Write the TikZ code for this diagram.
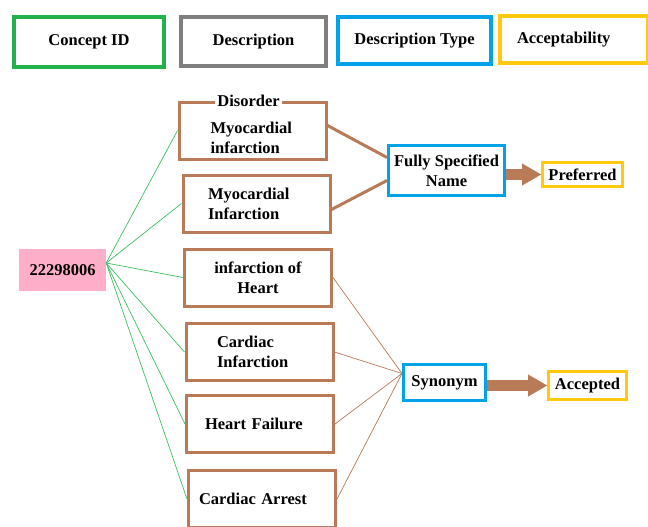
\documentclass[tikz,border=0pt]{standalone}
\usepackage{fontspec}
\setmainfont{Liberation Serif}
\usetikzlibrary{arrows.meta,calc}
\definecolor{idgreen}{HTML}{22B14C}
\definecolor{linkgreen}{HTML}{3CC060}
\definecolor{headgrey}{HTML}{7F7F7F}
\definecolor{typeblue}{HTML}{00A2E8}
\definecolor{accyellow}{HTML}{FFC90E}
\definecolor{descbrown}{HTML}{B97A57}
\definecolor{idpink}{HTML}{FFAEC9}

\begin{document}
\begin{tikzpicture}[x=1pt,y=-1pt,
  every node/.style={font=\fontsize{16.5}{20}\selectfont\bfseries, inner sep=0pt, align=center},
  headbox/.style={draw, line width=4pt},
  descbox/.style={draw=descbrown, line width=3pt, minimum width=147pt, minimum height=57pt},
  inset/.style 2 args={align=left, inner xsep=#1, text width=#2},
  typebox/.style={draw=typeblue, line width=3pt},
  accbox/.style={draw=accyellow, line width=3pt},
  idlink/.style={draw=linkgreen, line width=0.7pt},
  synlink/.style={draw=descbrown, line width=0.7pt},
  fsnlink/.style={draw=descbrown, line width=3pt},
  blockarrow/.style={draw=descbrown, line width=11pt, -{Triangle[length=19pt,width=22pt,line width=0.1pt]}}]
\clip (0,0) rectangle (648,527);
%\draw[help lines] (0,0) grid (648,527);
% heading row
\node[headbox, draw=idgreen, minimum width=150pt, minimum height=50pt] (cidhead) at (89,42) {Concept ID};
\node[headbox, draw=headgrey, minimum width=145pt, minimum height=49pt] (deschead) at (253.5,41.5) {Description};
\node[headbox, draw=typeblue, minimum width=153pt, minimum height=47pt] (typehead) at (414.5,40.5) {Description Type};
\node[headbox, draw=accyellow, minimum height=47pt, inset={17pt}{114pt}] (acchead) at (574,39.5) {Acceptability};
% concept
\node[fill=idpink, minimum width=87pt, minimum height=42pt] (cid) at (62.5,270) {22298006};
% descriptions
\node[descbox] (b1) at (252.5,130.5) {};
\node[inset={0pt}{86pt}] (b1text) at ([xshift=1pt,yshift=-7pt]b1) {Myocardial\\ infarction};
\node[fill=white, inner xsep=2pt, xshift=-4pt] (disorder) at (b1.north) {Disorder};
\node[descbox, inset={25pt}{97pt}] (b2) at (256.5,203.5) {Myocardial\\ Infarction};
\node[descbox] (b3) at (258,277.5) {infarction of\\ Heart};
\node[descbox, inset={31pt}{85pt}] (b4) at (259.5,352) {Cardiac\\ Infarction};
\node[descbox, inset={18.5pt}{110pt}] (b5) at (260,424) {Heart Failure};
\node[descbox, inset={10.5pt}{126pt}] (b6) at (262,499) {Cardiac Arrest};
% description types
\node[typebox, minimum width=116pt, minimum height=50pt] (fsn) at (446.5,170.5) {Fully Specified\\ Name};
\node[typebox, minimum width=82pt, minimum height=36pt] (syn) at (444.5,382.5) {Synonym};
% acceptability
\node[accbox, minimum width=80pt, minimum height=24pt] (pref) at (582.5,174.5) {Preferred};
\node[accbox, minimum width=78pt, minimum height=28pt] (acc) at (587.5,385.5) {Accepted};
% connectors
\coordinate (idhub) at ([yshift=7pt]cid.east);
\coordinate (synhub) at ([yshift=9pt]syn.west);
\foreach \b in {b1,b2,b3,b4,b5,b6}
  \draw[idlink] (idhub) -- (\b.west);
\foreach \b in {b3,b4,b5,b6}
  \draw[synlink] (\b.east) -- (synhub);
\draw[fsnlink] ([yshift=5pt]b1.east) -- ([yshift=13pt]fsn.west);
\draw[fsnlink] ([yshift=-6pt]b2.east) -- ([yshift=-10pt]fsn.west);
\draw[blockarrow] (fsn.east |- pref.west) -- (pref.west);
\draw[blockarrow] (syn.east |- acc.west) -- (acc.west);
\end{tikzpicture}
\end{document}
